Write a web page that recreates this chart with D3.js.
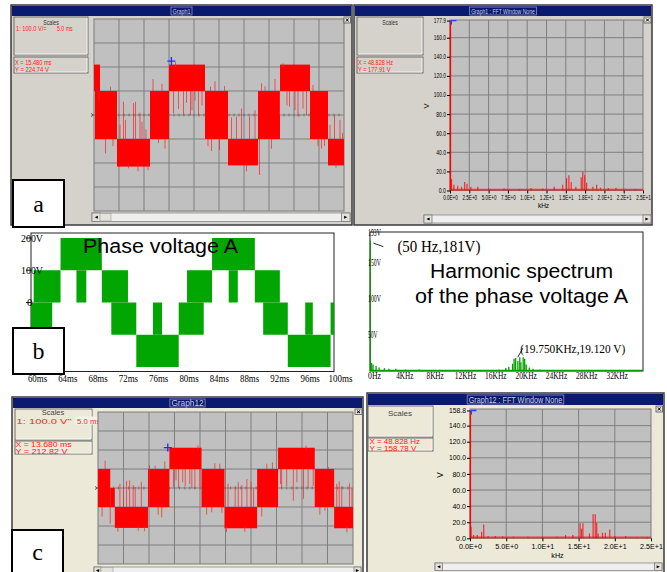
<!DOCTYPE html>
<html>
<head>
<meta charset="utf-8">
<script src="https://cdn.jsdelivr.net/npm/d3@7"></script>
<style>
  body { margin: 0; background: #fff; }
  svg { display: block; }
</style>
</head>
<body>
<svg></svg>
<script>
// ---- data ----
// measured phase voltage (a), bands [t0 ms, t1 ms, low V, high V]
const scopeABands = [
  [0, 1.2, 100, 210], [0.2, 4.6, -100, 100], [4.6, 11.2, -215, -100], [11.2, 15, -100, 100],
  [15, 22.2, 100, 210], [22.2, 26.8, -100, 100], [26.8, 32.8, -210, -100], [32.8, 37.2, -100, 100],
  [37.2, 43.2, 100, 210], [43.2, 46.8, -100, 100], [46.8, 50, -210, -100]
]
// switching spikes [t ms, from V, to V]
const scopeASpikes = [
  [1.0, 100, 60], [2.3, -100, -160], [3.3, 100, 118], [3.8, -100, -130], [5.2, -100, -40], [5.9, -100, 55],
  [6.3, -100, -20], [6.9, -200, -222], [7.9, -100, 50], [8.3, -100, 55], [8.8, -200, -235], [9.2, -100, 10],
  [9.6, -100, -28], [10.4, -100, -60], [10.8, -200, -230], [11.8, 100, 150], [12.9, -100, -117], [13.6, 100, 130],
  [14.2, -100, -140], [15.9, 100, 8], [16.3, 200, 220], [16.9, 100, 25], [17.9, 100, 0], [18.5, 100, 50],
  [19.3, 100, 0], [19.6, 100, 20], [20.2, 100, 60], [20.9, 100, -3], [21.6, 100, 40], [22.8, -100, -130],
  [23.3, 100, 118], [23.5, -100, -150], [24.2, 100, 140], [25.1, -100, -146], [26.1, 100, 121], [27.5, -100, -10],
  [28.5, -100, -7], [29.5, -100, 27], [30.5, -200, -235], [31.1, -100, -7], [32.2, -100, 20], [33.1, -100, -250],
  [33.5, 100, 132], [34.2, 100, 120], [35.5, -100, -140], [36.2, 100, 150], [37.1, 100, 0], [37.8, 200, 215],
  [38.6, 100, 40], [39.1, 100, 35], [40.2, 100, 20], [40.8, 100, -7], [41.8, 100, 27], [42.5, 100, 0],
  [43.8, 100, 125], [44.8, -100, -130], [45.5, -100, -140], [46.1, -100, -130], [47.2, -100, -40], [48.1, -100, 0],
  [48.4, -200, -220], [49.2, -100, -20], [49.7, -100, -75]
]
const scopeACursor = [15.48, 224.74]

// measured phase voltage (c)
const scopeCBands = [
  [0, 2.4, -100, 100], [2.4, 3.3, -100, 0], [3.3, 9.8, -210, -100], [9.8, 14, -100, 100],
  [14, 20.3, 100, 212], [20.3, 24.8, -100, 100], [24.8, 31.2, -212, -100], [31.2, 35.3, -100, 100],
  [35.3, 42.5, 100, 212], [42.5, 46.3, -100, 100], [46.3, 50, -212, -100]
]
const scopeCSpikes = [
  [0.8, -100, -150], [1.4, 100, 144], [2.4, -100, -188], [3.9, -200, -230], [4.3, -100, 22], [5.0, -100, 10],
  [5.6, -100, 38], [6.2, -100, 40], [6.9, -100, 15], [7.3, -100, 5], [7.9, -200, -225], [8.5, -100, 32],
  [9.1, -200, -228], [10.1, -100, 120], [11.2, 100, 117], [11.8, -100, -140], [12.5, -100, -155], [13.1, 100, 140],
  [14.8, 100, 3], [15.3, 100, 40], [15.8, 100, 0], [16.6, 100, 30], [17.1, 100, 10], [18.0, 100, 20],
  [18.4, 100, 0], [19.0, 100, -5], [19.6, 200, 225], [20.0, 100, 5], [21.3, -100, -140], [22.3, -100, -128],
  [22.9, 100, 130], [23.9, 100, 128], [24.3, -100, -130], [25.2, -200, -233], [25.5, -100, 22], [26.9, -100, 9],
  [27.5, -100, 30], [28.2, -100, 15], [28.8, -200, -230], [29.2, -100, 48], [30.0, -100, 35], [30.5, -100, 0],
  [32.1, -100, -150], [33.1, 100, 128], [34.2, 100, 135], [35.8, 100, 20], [36, 100, 0], [37, 100, 10],
  [38.3, 100, -67], [39.0, 100, 30], [40.3, 100, -57], [40.8, 200, 222], [41.2, 100, 0], [42.2, 100, 10],
  [43.5, -100, -140], [44.5, -100, -120], [45.2, 100, 110], [46.8, -100, 22], [47.3, -100, 35], [47.8, -100, 9],
  [48.8, -200, -233], [49.3, -100, 25], [49.8, -100, 0]
]
const scopeCCursor = [13.68, 212.82]

// FFT of (a): [kHz, V]
const fftASpikes = [
  [0.2, 12], [0.5, 6], [1.0, 5], [1.5, 4], [1.9, 9], [2.2, 7], [2.7, 4], [3.6, 4], [5, 2], [7, 2], [9, 1.5],
  [10.5, 2.5], [12, 2], [13.5, 4], [14.6, 6], [15.1, 13], [15.4, 16], [15.7, 9], [16.3, 4], [17.0, 14],
  [17.2, 19.6], [17.45, 16], [17.7, 8], [18.5, 4], [19.0, 6], [19.5, 3], [20.5, 2.5], [21.5, 3], [22.5, 1.5], [24, 1.5]
]
const fftAFund = [0.05, 177.9]
const fftAFloor = 1.8
const fftAYTicks = [0, 20, 40, 60, 80, 100, 120, 140, 160, 177.9]
const fftAXTicks = [0, 2.5, 5, 7.5, 10, 12.5, 15, 17.5, 20, 22.5, 25]
const fftAXLabels = ['0.0E+0', '2.5E+0', '5.0E+0', '7.5E+0', '1.0E+1', '1.2E+1', '1.5E+1', '1.8E+1', '2.0E+1', '2.2E+1', '2.5E+1']

// FFT of (c)
const fftCSpikes = [
  [0.15, 14.5], [0.5, 4], [1.0, 4], [1.6, 8], [1.9, 17], [2.5, 3], [3.5, 3], [4.5, 2.5], [6, 2], [8, 2],
  [10, 2], [12, 2], [13.2, 4], [14.2, 4], [15.2, 18.7], [15.4, 12], [15.6, 18.7], [16.5, 6], [17.0, 30],
  [17.3, 30], [17.5, 19], [17.7, 6], [18.3, 7], [18.7, 7], [19.3, 11], [20, 3], [21.5, 3], [23, 1.5], [24.5, 1.5]
]
const fftCFund = [0.05, 158.8]
const fftCFloor = 2.2
const fftCYTicks = [0, 20, 40, 60, 80, 100, 120, 140, 158.8]
const fftCXTicks = [0, 5, 10, 15, 20, 25]
const fftCXLabels = ['0.0E+0', '5.0E+0', '1.0E+1', '1.5E+1', '2.0E+1', '2.5E+1']

// simulated phase voltage (b), bands [t0 ms, t1 ms, low V, high V]
const simBands = [
  [60, 62.8, -100, 0], [60.35, 63.9, 0, 100], [63.9, 69.35, 100, 200], [66, 67.3, 0, 100],
  [69.35, 72.8, 0, 100], [70.6, 73.9, -100, 0], [73.9, 79.5, -200, -100], [76.1, 77.3, -100, 0],
  [79.5, 82.8, -100, 0], [80.6, 83.9, 0, 100], [83.9, 89.55, 100, 200], [86.1, 87.3, 0, 100],
  [89.55, 92.85, 0, 100], [90.65, 93.9, -100, 0], [93.9, 99.55, -200, -100], [96.2, 97.2, -100, 0],
  [99.55, 100, -100, 0]
]
const simTimeTicks = [60, 64, 68, 72, 76, 80, 84, 88, 92, 96, 100]
const simVoltTicks = [0, 100, 200]
const simVoltLabels = ['0', '100V', '200V']

// simulated harmonic spectrum: [kHz, V]
const simSpectrum = [
  [0.05, 181], [0.2, 11], [0.4, 9], [0.8, 7], [1.2, 5], [1.9, 4], [2.5, 3], [3.4, 3], [4.7, 2], [6.5, 2],
  [8.7, 1.5], [11.7, 1], [15.2, 1], [17.0, 2], [17.9, 4], [18.3, 6], [18.8, 10], [19.0, 17], [19.2, 18],
  [19.5, 14], [19.75, 19.12], [19.9, 12], [20.2, 19], [20.4, 17], [20.6, 9], [21.0, 5], [21.5, 3], [22.4, 2],
  [23.7, 1], [27.2, 0.5]
]
const simFloor = 0.6
const simFreqTicks = [0, 4, 8, 12, 16, 20, 24, 28, 32]
const simFreqLabels = ['0Hz', '4KHz', '8KHz', '12KHz', '16KHz', '20KHz', '24KHz', '28KHz', '32KHz']
const simSpecTicks = [50, 100, 150, 193]
const simSpecLabels = ['50V', '100V', '150V', '193V']
const simNotes = [
  { f: 0.05, v: 181, label: '(50 Hz,181V)' },
  { f: 19.75, v: 19.12, label: '(19.750KHz,19.120 V)' }
]

// ---- drawing ----
const sans = '"Liberation Sans", Arial, sans-serif'
const serif = '"Liberation Serif", "Times New Roman", serif'
const navy = '#0a1a6e'

const svg = d3.select('svg').attr('width', 667).attr('height', 572).attr('font-family', sans)
svg.append('rect').attr('width', 667).attr('height', 572).attr('fill', '#fff')

const fitText = (sel, perChar) => sel.each(function () {
  const t = d3.select(this)
  t.attr('textLength', t.text().length * perChar).attr('lengthAdjust', 'spacingAndGlyphs')
})

function drawWindow(w) {
  const g = svg.append('g')
  g.append('rect').attr('x', w.x).attr('y', w.y).attr('width', w.w).attr('height', w.h)
    .attr('fill', w.bg).attr('stroke', '#3a3a3a').attr('stroke-width', 1.5)
  g.append('rect').attr('x', w.x + 1).attr('y', w.y + 1).attr('width', w.w - 2).attr('height', w.barH)
    .attr('fill', navy)
  const label = g.append('text')
    .attr('x', w.x + w.w / 2).attr('y', w.y + w.barH - 1.5)
    .attr('text-anchor', 'middle').attr('fill', '#c9cde0').attr('font-size', w.fs)
    .text(w.title)
  fitText(label, w.charW)
  const len = w.title.length * w.charW
  g.append('rect').attr('x', w.x + w.w / 2 - len / 2 - 1.5).attr('y', w.y + 2)
    .attr('width', len + 3).attr('height', w.barH - 2)
    .attr('fill', 'none').attr('stroke', '#8d94b8').attr('stroke-width', 0.8)
  return g
}

function box(g, x, y, w, h) {
  g.append('rect').attr('x', x).attr('y', y).attr('width', w).attr('height', h)
    .attr('fill', 'none').attr('stroke', '#6e6e6e').attr('stroke-width', 1)
  g.append('path').attr('d', `M${x + 1},${y + h - 1}H${x + w - 1}V${y + 1}`)
    .attr('fill', 'none').attr('stroke', '#fafafa').attr('stroke-width', 0.8)
}

function scrollBar(g, x, y, w, h, thumbX, thumbW) {
  g.append('rect').attr('x', x).attr('y', y).attr('width', w).attr('height', h)
    .attr('fill', '#efefef').attr('stroke', '#8a8a8a').attr('stroke-width', 0.8)
  ;[x, x + w - h].forEach((bx, i) => {
    g.append('rect').attr('x', bx).attr('y', y).attr('width', h).attr('height', h)
      .attr('fill', '#e4e2dc').attr('stroke', '#7a7a7a').attr('stroke-width', 0.8)
    const cx = bx + h / 2, cy = y + h / 2, s = 1.6
    const d = i === 0 ? `M${cx - s},${cy}L${cx + s},${cy - s}V${cy + s}Z` : `M${cx + s},${cy}L${cx - s},${cy - s}V${cy + s}Z`
    g.append('path').attr('d', d).attr('fill', '#000')
  })
  if (thumbW > 0) {
    g.append('rect').attr('x', thumbX).attr('y', y + 0.5).attr('width', thumbW).attr('height', h - 1)
      .attr('fill', '#e4e2dc').attr('stroke', '#9a9a9a').attr('stroke-width', 0.6)
  }
}

function closeBtn(g, x, y, w, h) {
  g.append('rect').attr('x', x).attr('y', y).attr('width', w).attr('height', h)
    .attr('fill', '#e4e2dc').attr('stroke', '#555').attr('stroke-width', 0.8)
  g.append('path').attr('d', `M${x + 2},${y + 1.5}L${x + w - 2},${y + h - 1.5}M${x + w - 2},${y + 1.5}L${x + 2},${y + h - 1.5}`)
    .attr('stroke', '#000').attr('stroke-width', 1)
}

function smallText(g, x, y, txt, o) {
  const t = g.append('text').attr('x', x).attr('y', y).attr('font-size', o.fs)
    .attr('fill', o.fill || '#ff1a1a').attr('text-anchor', o.anchor || 'start').text(txt)
  if (o.charW) fitText(t, o.charW)
  return t
}

function drawScope(g, p, bands, spikes, cursor) {
  const x = d3.scaleLinear().domain([0, 50]).range([p.x, p.x + p.w])
  const y = d3.scaleLinear().domain([-400, 400]).range([p.y + p.h, p.y])
  const clipId = 'clip' + p.id
  g.append('clipPath').attr('id', clipId).append('rect')
    .attr('x', p.x).attr('y', p.y).attr('width', p.w).attr('height', p.h)
  g.append('rect').attr('x', p.x).attr('y', p.y).attr('width', p.w).attr('height', p.h)
    .attr('fill', '#c0c0c0').attr('stroke', '#7a7a7a')
  g.selectAll(null).data(d3.range(5, 50, 5)).join('line')
    .attr('x1', d => x(d)).attr('x2', d => x(d)).attr('y1', p.y).attr('y2', p.y + p.h)
    .attr('stroke', '#7f7f7f').attr('stroke-width', 1)
  g.selectAll(null).data(d3.range(-300, 400, 100)).join('line')
    .attr('y1', d => y(d)).attr('y2', d => y(d)).attr('x1', p.x).attr('x2', p.x + p.w)
    .attr('stroke', '#7f7f7f').attr('stroke-width', 1)
  // centre axis minor ticks
  g.selectAll(null).data(d3.range(1, 50, 1)).join('line')
    .attr('x1', d => x(d)).attr('x2', d => x(d)).attr('y1', y(0) - 1.5).attr('y2', y(0) + 1.5)
    .attr('stroke', '#6a6a6a').attr('stroke-width', 0.8)
  g.append('path').attr('d', `M${p.x - 3},${y(0) - 1.5}l2.5,1.5l-2.5,1.5`)
    .attr('fill', 'none').attr('stroke', '#333').attr('stroke-width', 0.8)

  const wave = g.append('g').attr('clip-path', `url(#${clipId})`)
  wave.selectAll(null).data(bands).join('rect')
    .attr('x', d => x(d[0])).attr('width', d => x(d[1]) - x(d[0]))
    .attr('y', d => y(d[3])).attr('height', d => y(d[2]) - y(d[3]))
    .attr('fill', '#ff0000')
  wave.selectAll(null).data(spikes).join('line')
    .attr('x1', d => x(d[0])).attr('x2', d => x(d[0]))
    .attr('y1', d => y(d[1])).attr('y2', d => y(d[2]))
    .attr('stroke', '#ff2020').attr('stroke-opacity', 0.7).attr('stroke-width', 1)

  const cx = x(cursor[0]), cy = y(cursor[1])
  g.append('path').attr('d', `M${cx - 4},${cy}H${cx + 4}M${cx},${cy - 4}V${cy + 4}`)
    .attr('stroke', '#1c2cff').attr('stroke-width', 1.3)
}

function drawFFT(g, p, spikes, fund, floor, yTicks, xTicks, xLabels) {
  const x = d3.scaleLinear().domain([0, 25]).range([p.x, p.x + p.w])
  const y = d3.scaleLinear().domain([0, p.yMax]).range([p.y + p.h, p.y + p.topPad])
  g.append('rect').attr('x', p.x).attr('y', p.y).attr('width', p.w).attr('height', p.h)
    .attr('fill', '#c0c0c0').attr('stroke', '#7a7a7a')
  g.selectAll(null).data(xTicks.slice(1, -1)).join('line')
    .attr('x1', d => x(d)).attr('x2', d => x(d)).attr('y1', p.y).attr('y2', p.y + p.h)
    .attr('stroke', '#7f7f7f')
  g.selectAll(null).data(yTicks.slice(1, -1)).join('line')
    .attr('y1', d => y(d)).attr('y2', d => y(d)).attr('x1', p.x).attr('x2', p.x + p.w)
    .attr('stroke', '#7f7f7f')

  g.append('rect').attr('x', x(0)).attr('width', x(25) - x(0))
    .attr('y', y(floor)).attr('height', y(0) - y(floor)).attr('fill', '#ff1a1a').attr('opacity', 0.85)
  g.selectAll(null).data(spikes).join('line')
    .attr('x1', d => x(d[0])).attr('x2', d => x(d[0])).attr('y1', y(0)).attr('y2', d => y(d[1]))
    .attr('stroke', '#ff1010').attr('stroke-width', 1.2).attr('stroke-opacity', 0.85)
  g.append('line').attr('x1', x(fund[0])).attr('x2', x(fund[0])).attr('y1', y(0)).attr('y2', y(fund[1]))
    .attr('stroke', '#ff0000').attr('stroke-width', 1.5)
  const fx = x(fund[0]), fy = y(fund[1])
  g.append('path').attr('d', `M${fx + 1},${fy + 4}V${fy}H${fx + 6}`)
    .attr('fill', 'none').attr('stroke', '#2040ff').attr('stroke-width', 1.3)

  const ya = g.append('g').attr('transform', `translate(${p.x},0)`)
    .call(d3.axisLeft(y).tickValues(yTicks).tickFormat(d3.format('.1f')).tickSize(3).tickPadding(1))
  ya.select('.domain').remove()
  ya.attr('font-size', p.fs).attr('font-family', sans)
  ya.selectAll('text').attr('dy', '0.3em')
  fitText(ya.selectAll('text'), p.yCharW)

  const xa = g.append('g').attr('transform', `translate(0,${p.y + p.h})`)
    .call(d3.axisBottom(x).tickValues(xTicks).tickFormat((d, i) => xLabels[i]).tickSize(3).tickPadding(p.xPad))
  xa.select('.domain').remove()
  xa.attr('font-size', p.fs).attr('font-family', sans)
  fitText(xa.selectAll('text'), p.xCharW)

  smallText(g, p.x + p.w / 2 - 3, p.y + p.h + p.unitDy, 'kHz', { fs: p.fs, fill: '#000', anchor: 'middle' })
  g.append('text').attr('transform', `translate(${p.vx},${p.vy}) rotate(-90)`)
    .attr('text-anchor', 'middle').attr('font-size', p.fs + 1).text('V')
}

// ---- window a ----
const winA = drawWindow({ x: 11, y: 5, w: 341, h: 220, bg: '#d5d2cb', title: 'Graph1', barH: 10, fs: 7, charW: 3 })
box(winA, 14, 17, 74, 38)
box(winA, 14, 57, 74, 16)
smallText(winA, 51, 25, 'Scales', { fs: 6.5, fill: '#333', anchor: 'middle', charW: 2.6 })
smallText(winA, 16, 31, '1: 100.0 V/=', { fs: 6.5, charW: 2.55 })
smallText(winA, 57, 31, '5.0 ms', { fs: 6.5, charW: 2.6 })
smallText(winA, 15, 64.5, 'X =  15.480 ms', { fs: 6.5, charW: 2.6 })
smallText(winA, 15, 71.5, 'Y =  224.74 V', { fs: 6.5, charW: 2.6 })
drawScope(winA, { id: 'a', x: 94, y: 19, w: 250, h: 192 }, scopeABands, scopeASpikes, scopeACursor)
closeBtn(winA, 344, 17, 6.5, 6)
scrollBar(winA, 92, 213, 258, 8.5, 100, 11)

// ---- window fft a ----
const winB = drawWindow({ x: 354, y: 5, w: 298, h: 220, bg: '#d5d2cb', title: 'Graph1 : FFT  Window None', barH: 10, fs: 7, charW: 2.55 })
box(winB, 357, 17, 66, 38)
box(winB, 357, 57, 66, 16)
smallText(winB, 390, 25, 'Scales', { fs: 6.5, fill: '#333', anchor: 'middle', charW: 2.6 })
smallText(winB, 358, 64.5, 'X =  48.828 Hz', { fs: 6.5, charW: 2.5 })
smallText(winB, 358, 71.5, 'Y =  177.91 V', { fs: 6.5, charW: 2.5 })
drawFFT(winB, { x: 450, y: 20, w: 193, h: 170.5, yMax: 177.9, topPad: 0.6, fs: 6.5, yCharW: 2.45, xCharW: 2.45, xPad: 1.5, unitDy: 17, vx: 429, vy: 106 },
  fftASpikes, fftAFund, fftAFloor, fftAYTicks, fftAXTicks, fftAXLabels)
closeBtn(winB, 644, 17, 7, 6)
scrollBar(winB, 424, 215, 227, 8, 431, 0)

// ---- panel b: simulated waveform ----
const gb = svg.append('g')
const bx = d3.scaleLinear().domain([60, 100]).range([31, 334])
const by = d3.scaleLinear().domain([-200, 200]).range([367, 238])
gb.append('rect').attr('x', 31).attr('y', 233).attr('width', 303).attr('height', 138.5)
  .attr('fill', '#fff').attr('stroke', '#222').attr('stroke-width', 1)
gb.selectAll(null).data(simBands).join('rect')
  .attr('x', d => bx(d[0])).attr('width', d => bx(d[1]) - bx(d[0]))
  .attr('y', d => by(d[3])).attr('height', d => by(d[2]) - by(d[3]))
  .attr('fill', '#02a602')
gb.selectAll(null).data(simVoltTicks).join('line')
  .attr('x1', 26).attr('x2', 31).attr('y1', d => by(d)).attr('y2', d => by(d)).attr('stroke', '#222')
gb.selectAll(null).data(simVoltTicks).join('text')
  .attr('x', (d, i) => i === 0 ? 27 : 21).attr('y', d => by(d) + 3.5).attr('font-family', serif).attr('font-size', 11)
  .text((d, i) => simVoltLabels[i])
  .each(function () { fitText(d3.select(this), 5.5) })
gb.selectAll(null).data(simTimeTicks).join('text')
  .attr('x', d => bx(d) + 6.5).attr('y', 382).attr('text-anchor', 'middle')
  .attr('font-family', serif).attr('font-size', 11)
  .text(d => d + 'ms')
  .each(function () { fitText(d3.select(this), 4.8) })
gb.append('text').attr('x', 160.5).attr('y', 253).attr('text-anchor', 'middle')
  .attr('font-size', 20).attr('textLength', 155).attr('lengthAdjust', 'spacingAndGlyphs')
  .text('Phase voltage A')

// ---- panel b: simulated spectrum ----
const gs = svg.append('g')
const sx = d3.scaleLinear().domain([0, 36]).range([370, 643])
const sy = d3.scaleLinear().domain([0, 193]).range([371, 232])
gs.append('rect').attr('x', 370).attr('y', 232).attr('width', 273).attr('height', 139)
  .attr('fill', '#fff').attr('stroke', '#222').attr('stroke-width', 1)
gs.append('line').attr('x1', sx(0)).attr('x2', sx(36)).attr('y1', sy(simFloor)).attr('y2', sy(simFloor))
  .attr('stroke', '#00a000').attr('stroke-width', 1.5)
gs.selectAll(null).data(simSpectrum).join('line')
  .attr('x1', d => sx(d[0])).attr('x2', d => sx(d[0])).attr('y1', sy(0)).attr('y2', d => sy(d[1]))
  .attr('stroke', '#00a000').attr('stroke-width', 1.3)
gs.selectAll(null).data(simSpecTicks).join('text')
  .attr('x', 368).attr('y', d => sy(d) + 3.5).attr('font-family', serif).attr('font-size', 10)
  .text((d, i) => simSpecLabels[i])
  .each(function () { fitText(d3.select(this), 3.2) })
gs.selectAll(null).data(simFreqTicks).join('text')
  .attr('x', d => sx(d) + 4.5).attr('y', 378.5).attr('text-anchor', 'middle')
  .attr('font-family', serif).attr('font-size', 10)
  .text((d, i) => simFreqLabels[i])
  .each(function () { fitText(d3.select(this), 4.3) })
// annotations
const n0 = simNotes[0], n1 = simNotes[1]
gs.append('line').attr('x1', sx(n0.f) + 3).attr('y1', sy(n0.v) + 2.5).attr('x2', sx(n0.f) + 13).attr('y2', sy(n0.v) + 6)
  .attr('stroke', '#111').attr('stroke-width', 0.9)
gs.append('text').attr('x', sx(n0.f) + 27).attr('y', sy(n0.v) + 11.5).attr('font-family', serif).attr('font-size', 16)
  .attr('textLength', 83).attr('lengthAdjust', 'spacingAndGlyphs').text(n0.label)
gs.append('line').attr('x1', sx(n1.f) - 2).attr('y1', sy(n1.v)).attr('x2', sx(n1.f) + 3).attr('y2', sy(n1.v) - 9)
  .attr('stroke', '#111').attr('stroke-width', 0.9)
gs.append('text').attr('x', sx(n1.f) + 0.5).attr('y', sy(n1.v) - 4).attr('font-family', serif).attr('font-size', 13.5)
  .attr('textLength', 105).attr('lengthAdjust', 'spacingAndGlyphs').text(n1.label)
gs.append('text').attr('x', 521.5).attr('y', 278).attr('text-anchor', 'middle').attr('font-size', 20)
  .attr('textLength', 183).attr('lengthAdjust', 'spacingAndGlyphs').text('Harmonic spectrum')
gs.append('text').attr('x', 521.5).attr('y', 303).attr('text-anchor', 'middle').attr('font-size', 20)
  .attr('textLength', 213).attr('lengthAdjust', 'spacingAndGlyphs').text('of the phase voltage A')

// ---- window c ----
const winC = drawWindow({ x: 12, y: 397, w: 351, h: 182, bg: '#ece9d8', title: 'Graph12', barH: 10, fs: 8.5, charW: 4.6 })
box(winC, 15, 409, 77, 31)
box(winC, 15, 441, 77, 13)
smallText(winC, 53, 415, 'Scales', { fs: 7.5, fill: '#444', anchor: 'middle' })
winC.append('rect').attr('x', 75).attr('y', 416.5).attr('width', 27).attr('height', 8).attr('fill', '#f4f2ea')
smallText(winC, 16.5, 423.5, '1: 100.0 V"', { fs: 8, charW: 5 })
smallText(winC, 77, 423.5, '5.0 ms', { fs: 8, charW: 3.9 })
smallText(winC, 15.5, 446.5, 'X =  13.680 ms', { fs: 6.8, charW: 4 })
smallText(winC, 15.5, 453.5, 'Y =  212.82 V', { fs: 6.8, charW: 4 })
drawScope(winC, { id: 'c', x: 98, y: 412, w: 255, h: 152 }, scopeCBands, scopeCSpikes, scopeCCursor)
closeBtn(winC, 355, 409, 7, 5.5)
scrollBar(winC, 94, 567, 267, 7, 101, 12)

// ---- window fft c ----
const winD = drawWindow({ x: 367, y: 393, w: 297, h: 182, bg: '#ece9d8', title: 'Graph12 : FFT  Window None', barH: 11, fs: 8.5, charW: 3.6 })
box(winD, 368, 406, 65, 31)
box(winD, 368, 438, 65, 13)
smallText(winD, 400, 416, 'Scales', { fs: 8, fill: '#444', anchor: 'middle' })
smallText(winD, 369.5, 443.8, 'X =  48.828 Hz', { fs: 6.8, charW: 3.6 })
smallText(winD, 369.5, 450.6, 'Y =  158.78 V', { fs: 6.8, charW: 3.6 })
drawFFT(winD, { x: 470, y: 409, w: 181, h: 129.3, yMax: 158.8, topPad: 1.5, fs: 7.2, yCharW: 3.4, xCharW: 3.8, xPad: 2.5, unitDy: 20, vx: 443, vy: 475 },
  fftCSpikes, fftCFund, fftCFloor, fftCYTicks, fftCXTicks, fftCXLabels)
closeBtn(winD, 656, 406, 6.5, 6)
scrollBar(winD, 435, 563, 227, 7.5, 442, 0)

// ---- panel labels ----
;[['a', 13, 180, 51, 47, 212], ['b', 13, 328, 51, 46, 359], ['c', 12, 530, 51, 46, 560]].forEach(([t, x, y, w, h, ty]) => {
  svg.append('rect').attr('x', x).attr('y', y).attr('width', w).attr('height', h)
    .attr('fill', '#fff').attr('stroke', '#000').attr('stroke-width', 2)
  svg.append('text').attr('x', x + w / 2).attr('y', ty).attr('text-anchor', 'middle')
    .attr('font-family', serif).attr('font-size', 24).text(t)
})
</script>
</body>
</html>
